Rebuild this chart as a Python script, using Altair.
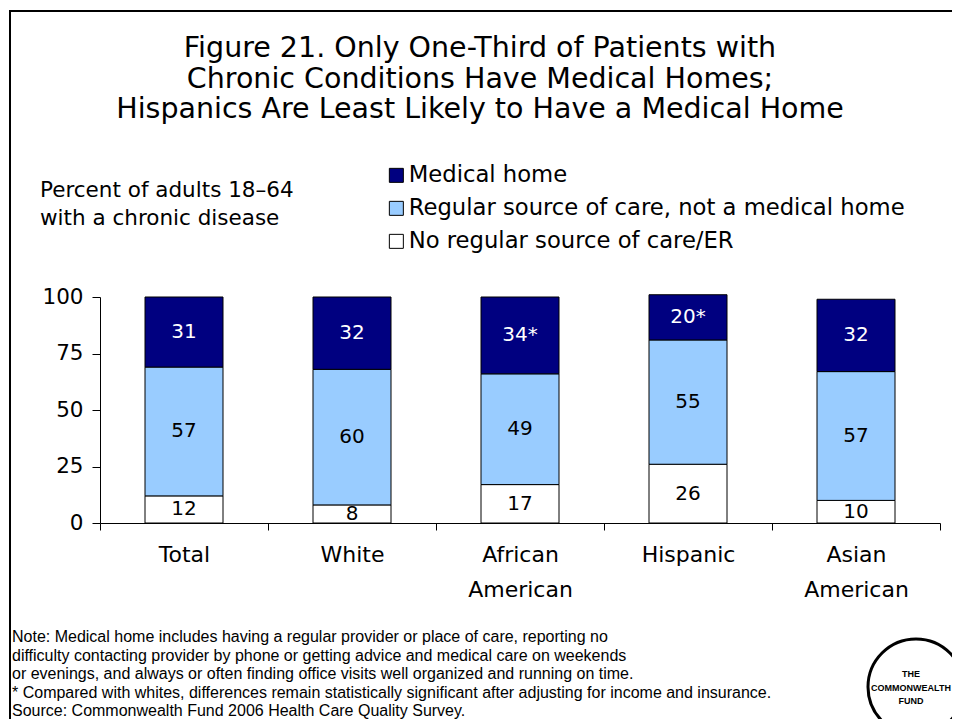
import altair as alt
import pandas as pd

# ---------------- data ----------------
categories = ["Total", "White", "African American", "Hispanic", "Asian American"]
series = [
    "Medical home",
    "Regular source of care, not a medical home",
    "No regular source of care/ER",
]
medical_home = [31, 32, 34, 20, 32]
regular_source = [57, 60, 49, 55, 57]
no_regular = [12, 8, 17, 26, 10]
significant = [False, False, True, True, False]
y_ticks = [0, 25, 50, 75, 100]

series_colors = ["#000080", "#99CCFF", "#FFFFFF"]
label_colors = ["white", "black", "black"]

title_lines = [
    "Figure 21. Only One-Third of Patients with",
    "Chronic Conditions Have Medical Homes;",
    "Hispanics Are Least Likely to Have a Medical Home",
]
y_label_lines = ["Percent of adults 18\u201364", "with a chronic disease"]
note_lines = [
    "Note: Medical home includes having a regular provider or place of care, reporting no",
    "difficulty contacting provider by phone or getting advice and medical care on weekends",
    "or evenings, and always or often finding office visits well organized and running on time.",
    "* Compared with whites, differences remain statistically significant after adjusting for income and insurance.",
    "Source: Commonwealth Fund 2006 Health Care Quality Survey.",
]
logo_lines = ["THE", "COMMONWEALTH", "FUND"]

# ---------------- table ----------------
rows = []
for i, cat in enumerate(categories):
    stack = [
        (series[2], no_regular[i], 0, label_colors[2], False),
        (series[1], regular_source[i], 1, label_colors[1], False),
        (series[0], medical_home[i], 2, label_colors[0], significant[i]),
    ]
    base = 0
    for name, val, order, tc, star in stack:
        rows.append(
            {
                "category": cat,
                "series": name,
                "value": val,
                "stack_order": order,
                "mid": base + val / 2,
                "label": f"{val}*" if star else f"{val}",
                "tc": tc,
            }
        )
        base += val
df = pd.DataFrame(rows)

FONT = "DejaVu Sans"

x_axis = alt.Axis(
    title=None,
    labelAngle=0,
    labelFont=FONT,
    labelFontSize=22,
    labelColor="black",
    labelPadding=14,
    labelLineHeight=35,
    labelExpr="split(datum.label, ' ')",
    tickBand="extent",
    tickSize=7,
    tickColor="black",
    domainColor="black",
    labelBaseline="top",
)
y_axis = alt.Axis(
    title=None,
    values=y_ticks,
    grid=False,
    tickSize=8,
    tickColor="black",
    domainColor="black",
    labelFont=FONT,
    labelFontSize=21.5,
    labelColor="black",
    labelPadding=9,
)
x_scale = alt.Scale(paddingInner=0, paddingOuter=0)
y_scale = alt.Scale(domain=[0, 100], nice=False)

bars = alt.Chart(df).mark_bar(size=78, stroke="black", strokeWidth=1).encode(
    x=alt.X("category:N", sort=categories, scale=x_scale, axis=x_axis),
    y=alt.Y("value:Q", stack="zero", scale=y_scale, axis=y_axis),
    color=alt.Color(
        "series:N",
        scale=alt.Scale(domain=series, range=series_colors),
        legend=alt.Legend(
            title=None,
            orient="none",
            legendX=285,
            legendY=-133,
            direction="vertical",
            symbolType="square",
            symbolSize=196,
            symbolStrokeColor="black",
            symbolStrokeWidth=1,
            symbolOpacity=1,
            labelFont=FONT,
            labelFontSize=22.7,
            labelColor="black",
            labelOffset=1,
            rowPadding=9,
            padding=0,
            labelLimit=0,
        ),
    ),
    order=alt.Order("stack_order:Q", sort="ascending"),
)

values_text = alt.Chart(df).mark_text(fontSize=20, font=FONT, baseline="middle").encode(
    x=alt.X("category:N", sort=categories, scale=x_scale, axis=x_axis),
    y=alt.Y("mid:Q", scale=y_scale, axis=y_axis),
    text="label:N",
    color=alt.Color("tc:N", scale=None),
)

title_text = alt.Chart(pd.DataFrame({"t": ["\n".join(title_lines)]})).mark_text(
    lineBreak="\n", lineHeight=30.5, fontSize=28.5, font=FONT, align="center", baseline="top", color="black"
).encode(x=alt.value(380), y=alt.value(-263), text="t:N")

ylabel_text = alt.Chart(pd.DataFrame({"t": ["\n".join(y_label_lines)]})).mark_text(
    lineBreak="\n", lineHeight=28, fontSize=21.5, font=FONT, align="left", baseline="top", color="black"
).encode(x=alt.value(-60), y=alt.value(-117), text="t:N")

notes_text = alt.Chart(pd.DataFrame({"t": ["\n".join(note_lines)]})).mark_text(
    lineBreak="\n", lineHeight=18.6, fontSize=16, font="Liberation Sans", align="left", baseline="top", color="black"
).encode(x=alt.value(-88), y=alt.value(332), text="t:N")

logo_circle = alt.Chart(pd.DataFrame({"a": [0]})).mark_point(
    shape="circle", size=9216, filled=False, stroke="black", strokeWidth=3, opacity=1
).encode(x=alt.value(816), y=alt.value(390))

logo_text = alt.Chart(pd.DataFrame({"t": ["\n".join(logo_lines)]})).mark_text(
    lineBreak="\n", lineHeight=13.5, fontSize=9, font="Liberation Sans", fontWeight="bold",
    align="center", baseline="top", color="black"
).encode(x=alt.value(811), y=alt.value(373), text="t:N")

border = alt.Chart(pd.DataFrame({"a": [0]})).mark_rect(
    fillOpacity=0, stroke="black", strokeWidth=2
).encode(x=alt.value(-90), x2=alt.value(900), y=alt.value(-286), y2=alt.value(500))

chart = (
    alt.layer(border, bars, values_text, title_text, ylabel_text, notes_text, logo_circle, logo_text)
    .properties(
        width=840,
        height=226,
        autosize=alt.AutoSizeParams(type="none"),
        padding={"left": 92, "top": 289, "right": 12, "bottom": 196},
        background="white",
    )
    .configure(font=FONT)
    .configure_view(stroke="transparent", strokeWidth=0)
)

chart.save("out.html", embed_options={"renderer": "svg", "actions": False})
